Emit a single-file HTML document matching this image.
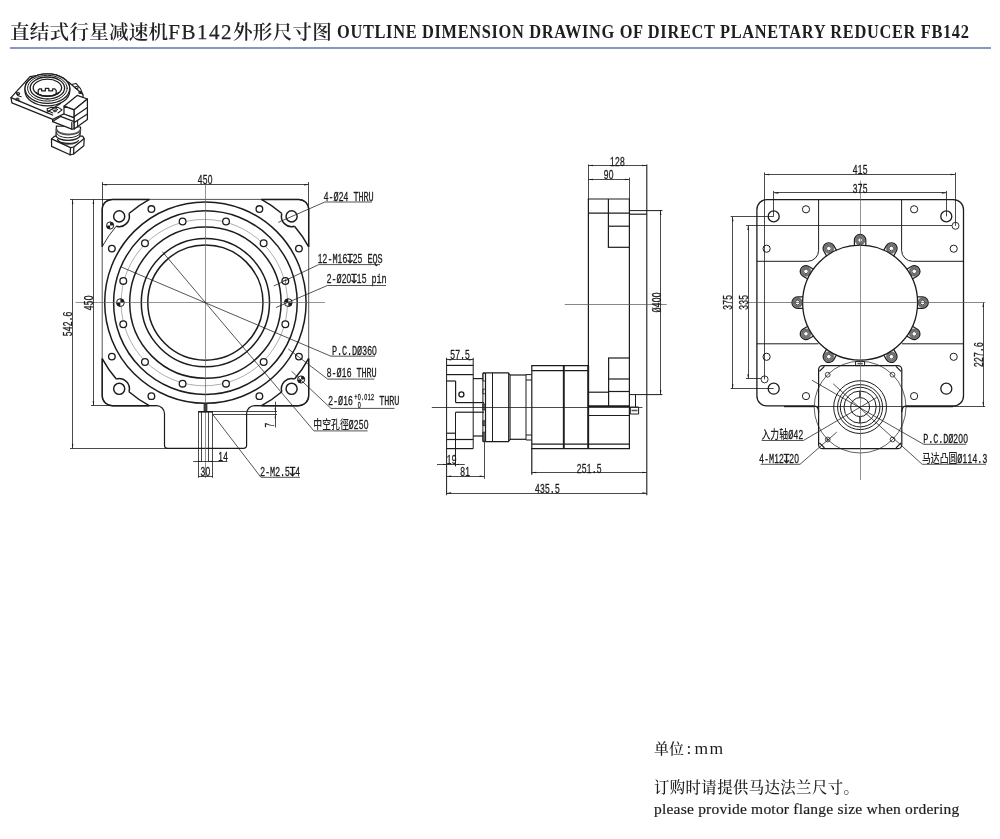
<!DOCTYPE html>
<html lang="zh">
<head>
<meta charset="utf-8">
<title>直结式行星减速机FB142外形尺寸图</title>
<style>
html,body{margin:0;padding:0;background:#fff;}
body{width:1000px;height:839px;position:relative;overflow:hidden;font-family:"Liberation Serif","Noto Serif CJK SC",serif;color:#222;}
.hd{position:absolute;left:0;top:0;width:1000px;height:50px;}
.t-cn{position:absolute;left:10px;top:17.2px;font-size:19.6px;line-height:30px;white-space:nowrap;letter-spacing:0.2px;font-family:"Liberation Serif","Noto Serif CJK SC",serif;font-weight:600;color:#222;}
.t-cn b{font-weight:400;-webkit-text-stroke:0.25px #222;font-size:21px;letter-spacing:1.5px;}
.t-en{position:absolute;left:337.4px;top:19.1px;font-size:16.4px;line-height:28px;font-weight:bold;white-space:nowrap;letter-spacing:0.66px;transform-origin:0 75%;transform:scaleY(1.15);color:#1e1e1e;}
.rule{position:absolute;left:10px;top:47px;width:981px;height:1.8px;background:#8a97c5;}
svg{position:absolute;left:0;top:0;will-change:transform;opacity:0.999;}
.t-cn,.t-en,.note{will-change:transform;}
svg text.cad{font-family:"Liberation Mono","DejaVu Sans Mono","DejaVu Sans",monospace;white-space:pre;}
svg text.cad.d, svg text.cad .d{font-family:"Liberation Sans","DejaVu Sans",sans-serif;}
svg text.cad .s{font-family:"DejaVu Sans","Liberation Sans",sans-serif;font-size:12.6px;}
svg text.cad{stroke:#1c1c1c;stroke-width:0.3px;}
svg text.cn{font-family:"Liberation Sans","Noto Sans CJK SC",sans-serif;font-weight:500;}
.note{position:absolute;white-space:nowrap;color:#1c1c1c;}
.cnm{font-weight:500;}
.en{-webkit-text-stroke:0.2px #1c1c1c;}
</style>
</head>
<body>
<div class="hd"><div class="t-cn">直结式行星减速机<b>FB142</b>外形尺寸图</div><div class="t-en">OUTLINE DIMENSION DRAWING OF DIRECT PLANETARY REDUCER FB142</div><div class="rule"></div></div>
<svg width="1000" height="839" viewBox="0 0 1000 839" stroke-linecap="butt" stroke-linejoin="round">
<path d="M112.20,199.40 L298.70,199.40 A10.0,10.0 0 0 1 308.70,209.40 L308.70,395.70 A10.0,10.0 0 0 1 298.70,405.70 L254.60,405.70 M156.50,405.70 L112.20,405.70 A10.0,10.0 0 0 1 102.20,395.70 L102.20,209.40 A10.0,10.0 0 0 1 112.20,199.40" stroke="#4a4a4a" stroke-width="0.95" fill="none" />
<path d="M298.70,405.70 L254.60,405.70 A8.0,8.0 0 0 0 246.60,413.70 L246.60,445.40 A3.0,3.0 0 0 1 243.60,448.40 L167.50,448.40 A3.0,3.0 0 0 1 164.50,445.40 L164.50,413.70 A8.0,8.0 0 0 0 156.50,405.70 L112.20,405.70" stroke="#1c1c1c" stroke-width="1.2" fill="none" />
<circle cx="205.40" cy="302.60" r="100.70" stroke="#1c1c1c" stroke-width="1.5" fill="none" />
<circle cx="205.40" cy="302.60" r="91.80" stroke="#1c1c1c" stroke-width="1.5" fill="none" />
<circle cx="205.40" cy="302.60" r="75.70" stroke="#1c1c1c" stroke-width="1.5" fill="none" />
<circle cx="205.40" cy="302.60" r="64.10" stroke="#1c1c1c" stroke-width="1.5" fill="none" />
<circle cx="205.40" cy="302.60" r="57.60" stroke="#1c1c1c" stroke-width="1.5" fill="none" />
<circle cx="204.30" cy="302.60" r="83.20" stroke="#777" stroke-width="0.6" fill="none" />
<circle cx="285.34" cy="324.31" r="3.35" stroke="#1c1c1c" stroke-width="1.3" fill="#fff" />
<circle cx="263.63" cy="361.93" r="3.35" stroke="#1c1c1c" stroke-width="1.3" fill="#fff" />
<circle cx="226.01" cy="383.64" r="3.35" stroke="#1c1c1c" stroke-width="1.3" fill="#fff" />
<circle cx="182.59" cy="383.64" r="3.35" stroke="#1c1c1c" stroke-width="1.3" fill="#fff" />
<circle cx="144.97" cy="361.93" r="3.35" stroke="#1c1c1c" stroke-width="1.3" fill="#fff" />
<circle cx="123.26" cy="324.31" r="3.35" stroke="#1c1c1c" stroke-width="1.3" fill="#fff" />
<circle cx="123.26" cy="280.89" r="3.35" stroke="#1c1c1c" stroke-width="1.3" fill="#fff" />
<circle cx="144.97" cy="243.27" r="3.35" stroke="#1c1c1c" stroke-width="1.3" fill="#fff" />
<circle cx="182.59" cy="221.56" r="3.35" stroke="#1c1c1c" stroke-width="1.3" fill="#fff" />
<circle cx="226.01" cy="221.56" r="3.35" stroke="#1c1c1c" stroke-width="1.3" fill="#fff" />
<circle cx="263.63" cy="243.27" r="3.35" stroke="#1c1c1c" stroke-width="1.3" fill="#fff" />
<circle cx="285.34" cy="280.89" r="3.35" stroke="#1c1c1c" stroke-width="1.3" fill="#fff" />
<line x1="283.14" y1="280.50" x2="287.54" y2="280.50" stroke="#1c1c1c" stroke-width="0.5" />
<line x1="285.50" y1="278.69" x2="285.50" y2="283.09" stroke="#1c1c1c" stroke-width="0.5" />
<circle cx="298.93" cy="356.60" r="3.30" stroke="#1c1c1c" stroke-width="1.35" fill="none" />
<circle cx="259.40" cy="396.13" r="3.30" stroke="#1c1c1c" stroke-width="1.35" fill="none" />
<circle cx="151.40" cy="396.13" r="3.30" stroke="#1c1c1c" stroke-width="1.35" fill="none" />
<circle cx="111.87" cy="356.60" r="3.30" stroke="#1c1c1c" stroke-width="1.35" fill="none" />
<circle cx="111.87" cy="248.60" r="3.30" stroke="#1c1c1c" stroke-width="1.35" fill="none" />
<circle cx="151.40" cy="209.07" r="3.30" stroke="#1c1c1c" stroke-width="1.35" fill="none" />
<circle cx="259.40" cy="209.07" r="3.30" stroke="#1c1c1c" stroke-width="1.35" fill="none" />
<circle cx="298.93" cy="248.60" r="3.30" stroke="#1c1c1c" stroke-width="1.35" fill="none" />
<circle cx="119.20" cy="216.40" r="5.55" stroke="#1c1c1c" stroke-width="1.45" fill="none" />
<path d="M102.20,246.63 L102.20,209.40 A10.0,10.0 0 0 1 112.20,199.40 L149.43,199.40" stroke="#1c1c1c" stroke-width="1.45" fill="none" />
<path d="M116.28,226.17 A10.2,10.2 0 0 0 128.97,213.48" stroke="#1c1c1c" stroke-width="1.5" fill="none" />
<path d="M116.28,226.17 A117.4,117.4 0 0 0 102.20,246.63" stroke="#1c1c1c" stroke-width="0.9" fill="none" />
<path d="M128.97,213.48 A117.4,117.4 0 0 1 149.43,199.40" stroke="#1c1c1c" stroke-width="1.5" fill="none" />
<circle cx="291.60" cy="216.40" r="5.55" stroke="#1c1c1c" stroke-width="1.45" fill="none" />
<path d="M308.70,246.82 L308.70,209.40 A10.0,10.0 0 0 0 298.70,199.40 L261.37,199.40" stroke="#1c1c1c" stroke-width="1.45" fill="none" />
<path d="M281.83,213.48 A10.2,10.2 0 0 0 294.52,226.17" stroke="#1c1c1c" stroke-width="1.5" fill="none" />
<path d="M281.83,213.48 A117.4,117.4 0 0 0 261.37,199.40" stroke="#1c1c1c" stroke-width="1.5" fill="none" />
<path d="M294.52,226.17 A117.4,117.4 0 0 1 308.70,246.82" stroke="#1c1c1c" stroke-width="1.5" fill="none" />
<circle cx="291.60" cy="388.80" r="5.55" stroke="#1c1c1c" stroke-width="1.45" fill="none" />
<path d="M308.70,358.38 L308.70,395.70 A10.0,10.0 0 0 1 298.70,405.70 L261.55,405.70" stroke="#1c1c1c" stroke-width="1.45" fill="none" />
<path d="M294.52,379.03 A10.2,10.2 0 0 0 281.83,391.72" stroke="#1c1c1c" stroke-width="1.5" fill="none" />
<path d="M294.52,379.03 A117.4,117.4 0 0 0 308.70,358.38" stroke="#1c1c1c" stroke-width="1.5" fill="none" />
<path d="M281.83,391.72 A117.4,117.4 0 0 1 261.55,405.70" stroke="#1c1c1c" stroke-width="1.5" fill="none" />
<circle cx="119.20" cy="388.80" r="5.55" stroke="#1c1c1c" stroke-width="1.45" fill="none" />
<path d="M102.20,358.57 L102.20,395.70 A10.0,10.0 0 0 0 112.20,405.70 L149.25,405.70" stroke="#1c1c1c" stroke-width="1.45" fill="none" />
<path d="M128.97,391.72 A10.2,10.2 0 0 0 116.28,379.03" stroke="#1c1c1c" stroke-width="1.5" fill="none" />
<path d="M128.97,391.72 A117.4,117.4 0 0 0 149.25,405.70" stroke="#1c1c1c" stroke-width="1.5" fill="none" />
<path d="M116.28,379.03 A117.4,117.4 0 0 1 102.20,358.57" stroke="#1c1c1c" stroke-width="1.5" fill="none" />
<circle cx="120.40" cy="302.60" r="3.90" stroke="#1c1c1c" stroke-width="1.0" fill="#fff" />
<path d="M120.40,302.60 L120.40,298.70 A3.90,3.90 0 0 1 124.30,302.60 Z" stroke="#1c1c1c" stroke-width="0" fill="#1c1c1c" />
<path d="M120.40,302.60 L120.40,306.50 A3.90,3.90 0 0 1 116.50,302.60 Z" stroke="#1c1c1c" stroke-width="0" fill="#1c1c1c" />
<circle cx="288.30" cy="302.60" r="3.90" stroke="#1c1c1c" stroke-width="1.0" fill="#fff" />
<path d="M288.30,302.60 L288.30,298.70 A3.90,3.90 0 0 0 284.40,302.60 Z" stroke="#1c1c1c" stroke-width="0" fill="#1c1c1c" />
<path d="M288.30,302.60 L288.30,306.50 A3.90,3.90 0 0 0 292.20,302.60 Z" stroke="#1c1c1c" stroke-width="0" fill="#1c1c1c" />
<circle cx="110.10" cy="225.50" r="3.60" stroke="#1c1c1c" stroke-width="1.0" fill="#fff" />
<path d="M110.10,225.50 L110.10,221.90 A3.60,3.60 0 0 1 113.70,225.50 Z" stroke="#1c1c1c" stroke-width="0" fill="#1c1c1c" />
<path d="M110.10,225.50 L110.10,229.10 A3.60,3.60 0 0 1 106.50,225.50 Z" stroke="#1c1c1c" stroke-width="0" fill="#1c1c1c" />
<circle cx="301.10" cy="379.50" r="3.60" stroke="#1c1c1c" stroke-width="1.0" fill="#fff" />
<path d="M301.10,379.50 L301.10,375.90 A3.60,3.60 0 0 1 304.70,379.50 Z" stroke="#1c1c1c" stroke-width="0" fill="#1c1c1c" />
<path d="M301.10,379.50 L301.10,383.10 A3.60,3.60 0 0 1 297.50,379.50 Z" stroke="#1c1c1c" stroke-width="0" fill="#1c1c1c" />
<line x1="205.50" y1="185.00" x2="205.50" y2="478.00" stroke="#666" stroke-width="0.7" />
<line x1="75.50" y1="302.50" x2="325.00" y2="302.50" stroke="#666" stroke-width="0.7" />
<path d="M278.20,222.40 L324.80,202.00 L372.00,202.00" stroke="#1c1c1c" stroke-width="0.75" fill="none" />
<text transform="translate(323.50,200.80) rotate(0) translate(0,-0.25) scale(0.66,1)" x="3.79 11.36 18.94 26.52 34.09 41.67 49.24 56.82 64.39 71.97" font-size="12.9" text-anchor="middle" fill="#1c1c1c" class="cad" ><tspan class="d">4</tspan>-Ø<tspan class="d">24</tspan> THRU</text>
<path d="M273.70,286.00 L318.70,264.60 L380.00,264.60" stroke="#1c1c1c" stroke-width="0.75" fill="none" />
<text transform="translate(317.50,263.30) rotate(0) translate(0,-0.25) scale(0.66,1)" x="3.79 11.36 18.94 26.52 34.09 41.67 49.24 56.82 64.39 71.97 79.55 87.12 94.70" font-size="12.9" text-anchor="middle" fill="#1c1c1c" class="cad" ><tspan class="d">12</tspan>-M<tspan class="d">16</tspan><tspan class="s" textLength="16" lengthAdjust="spacingAndGlyphs">↧</tspan><tspan class="d">25</tspan> EQS</text>
<path d="M276.00,307.50 L327.40,285.50 L386.00,285.50" stroke="#1c1c1c" stroke-width="0.75" fill="none" />
<text transform="translate(326.50,283.40) rotate(0) translate(0,-0.25) scale(0.66,1)" x="3.79 11.36 18.94 26.52 34.09 41.67 49.24 56.82 64.39 71.97 79.55 87.12" font-size="12.9" text-anchor="middle" fill="#1c1c1c" class="cad" ><tspan class="d">2</tspan>-Ø<tspan class="d">20</tspan><tspan class="s" textLength="16" lengthAdjust="spacingAndGlyphs">↧</tspan><tspan class="d">15</tspan> pin</text>
<path d="M120.80,266.80 L330.90,356.20 L375.00,356.20" stroke="#1c1c1c" stroke-width="0.75" fill="none" />
<text transform="translate(332.00,355.00) rotate(0) translate(0,-0.25) scale(0.66,1)" x="3.79 11.36 18.94 26.52 34.09 41.67 49.24 56.82 64.39" font-size="12.9" text-anchor="middle" fill="#1c1c1c" class="cad" >P.C.DØ<tspan class="d">360</tspan></text>
<path d="M288.30,349.00 L327.70,379.10 L374.40,379.10" stroke="#1c1c1c" stroke-width="0.75" fill="none" />
<text transform="translate(326.60,377.60) rotate(0) translate(0,-0.25) scale(0.66,1)" x="3.79 11.36 18.94 26.52 34.09 41.67 49.24 56.82 64.39 71.97" font-size="12.9" text-anchor="middle" fill="#1c1c1c" class="cad" ><tspan class="d">8</tspan>-Ø<tspan class="d">16</tspan> THRU</text>
<path d="M291.60,371.30 L330.90,408.40 L394.50,408.40" stroke="#1c1c1c" stroke-width="0.75" fill="none" />
<text transform="translate(328.00,404.90) rotate(0) translate(0,-0.25) scale(0.66,1)" x="3.79 11.36 18.94 26.52 34.09" font-size="12.9" text-anchor="middle" fill="#1c1c1c" class="cad" ><tspan class="d">2</tspan>-Ø<tspan class="d">16</tspan></text>
<text transform="translate(354.30,400.00) rotate(0) translate(0,-0.25) scale(0.66,1)" x="2.50 7.50 12.50 17.50 22.50 27.50" font-size="8.2" text-anchor="middle" fill="#1c1c1c" class="cad" >+<tspan class="d">0</tspan>.<tspan class="d">012</tspan></text>
<text transform="translate(357.60,408.00) rotate(0) translate(0,-0.25) scale(0.66,1)" x="2.50" font-size="8.2" text-anchor="middle" fill="#1c1c1c" class="cad d" >0</text>
<text transform="translate(379.20,404.90) rotate(0) translate(0,-0.25) scale(0.66,1)" x="3.79 11.36 18.94 26.52" font-size="12.9" text-anchor="middle" fill="#1c1c1c" class="cad" >THRU</text>
<path d="M162.30,251.60 L313.90,430.90 L367.60,430.90" stroke="#1c1c1c" stroke-width="0.75" fill="none" />
<text transform="translate(313.30,429.40) rotate(0) scale(0.74,1)" font-size="12.0" text-anchor="start" fill="#222" class="cn">中空孔徑</text>
<text transform="translate(348.60,429.40) rotate(0) translate(0,-0.25) scale(0.66,1)" x="3.79 11.36 18.94 26.52" font-size="12.9" text-anchor="middle" fill="#1c1c1c" class="cad" >Ø<tspan class="d">250</tspan></text>
<path d="M213.00,414.80 L260.90,477.30 L300.00,477.30" stroke="#1c1c1c" stroke-width="0.75" fill="none" />
<text transform="translate(260.00,475.80) rotate(0) translate(0,-0.25) scale(0.66,1)" x="3.79 11.36 18.94 26.52 34.09 41.67 49.24 56.82" font-size="12.9" text-anchor="middle" fill="#1c1c1c" class="cad" ><tspan class="d">2</tspan>-M<tspan class="d">2</tspan>.<tspan class="d">5</tspan><tspan class="s" textLength="16" lengthAdjust="spacingAndGlyphs">↧</tspan><tspan class="d">4</tspan></text>
<line x1="102.20" y1="184.50" x2="308.70" y2="184.50" stroke="#1c1c1c" stroke-width="0.8" />
<polygon points="102.20,184.75 106.70,184.00 106.70,185.50" fill="#1c1c1c"/>
<polygon points="308.70,184.75 304.20,185.50 304.20,184.00" fill="#1c1c1c"/>
<line x1="102.50" y1="182.00" x2="102.50" y2="211.40" stroke="#1c1c1c" stroke-width="0.8" />
<line x1="308.50" y1="182.00" x2="308.50" y2="211.40" stroke="#1c1c1c" stroke-width="0.8" />
<text transform="translate(205.00,183.40) rotate(0) translate(0,0.7) scale(0.66,1)" x="-7.58 0.00 7.58" font-size="12.9" text-anchor="middle" fill="#1c1c1c" class="cad d" >450</text>
<line x1="93.50" y1="199.40" x2="93.50" y2="405.70" stroke="#1c1c1c" stroke-width="0.8" />
<polygon points="93.40,199.40 94.15,203.90 92.65,203.90" fill="#1c1c1c"/>
<polygon points="93.40,405.70 92.65,401.20 94.15,401.20" fill="#1c1c1c"/>
<text transform="translate(92.30,303.00) rotate(-90) translate(0,0.7) scale(0.66,1)" x="-7.58 0.00 7.58" font-size="12.9" text-anchor="middle" fill="#1c1c1c" class="cad d" >450</text>
<line x1="72.50" y1="199.40" x2="72.50" y2="448.40" stroke="#1c1c1c" stroke-width="0.8" />
<polygon points="72.60,199.40 73.35,203.90 71.85,203.90" fill="#1c1c1c"/>
<polygon points="72.60,448.40 71.85,443.90 73.35,443.90" fill="#1c1c1c"/>
<text transform="translate(71.20,324.00) rotate(-90) translate(0,0.7) scale(0.66,1)" x="-15.15 -7.58 0.00 7.58 15.15" font-size="12.9" text-anchor="middle" fill="#1c1c1c" class="cad" ><tspan class="d">542</tspan>.<tspan class="d">6</tspan></text>
<line x1="70.00" y1="199.50" x2="112.20" y2="199.50" stroke="#1c1c1c" stroke-width="0.8" />
<line x1="70.00" y1="448.50" x2="168.50" y2="448.50" stroke="#1c1c1c" stroke-width="0.8" />
<line x1="91.00" y1="405.50" x2="112.20" y2="405.50" stroke="#1c1c1c" stroke-width="0.8" />
<rect x="204.0" y="403.6" width="3.0" height="8.0" fill="#444" stroke="#222" stroke-width="0.7"/>
<line x1="198.30" y1="411.80" x2="212.80" y2="411.80" stroke="#1c1c1c" stroke-width="1.6" />
<line x1="198.50" y1="411.00" x2="198.50" y2="477.80" stroke="#1c1c1c" stroke-width="0.8" />
<line x1="212.50" y1="411.00" x2="212.50" y2="477.80" stroke="#1c1c1c" stroke-width="0.8" />
<line x1="201.50" y1="412.00" x2="201.50" y2="462.00" stroke="#1c1c1c" stroke-width="0.8" />
<line x1="208.50" y1="412.00" x2="208.50" y2="462.00" stroke="#1c1c1c" stroke-width="0.8" />
<line x1="193.20" y1="461.50" x2="227.30" y2="461.50" stroke="#1c1c1c" stroke-width="0.8" />
<polygon points="201.50,461.30 198.00,461.90 198.00,460.70" fill="#1c1c1c"/>
<polygon points="208.80,461.30 212.30,460.70 212.30,461.90" fill="#1c1c1c"/>
<text transform="translate(223.00,460.60) rotate(0) translate(0,0.7) scale(0.66,1)" x="-3.79 3.79" font-size="12.9" text-anchor="middle" fill="#1c1c1c" class="cad d" >14</text>
<line x1="198.20" y1="476.50" x2="213.00" y2="476.50" stroke="#1c1c1c" stroke-width="0.8" />
<text transform="translate(205.40,475.20) rotate(0) translate(0,0.7) scale(0.66,1)" x="-3.79 3.79" font-size="12.9" text-anchor="middle" fill="#1c1c1c" class="cad d" >30</text>
<line x1="213.00" y1="411.50" x2="277.00" y2="411.50" stroke="#1c1c1c" stroke-width="0.8" />
<line x1="213.00" y1="414.50" x2="277.00" y2="414.50" stroke="#1c1c1c" stroke-width="0.8" />
<line x1="275.50" y1="401.60" x2="275.50" y2="427.50" stroke="#1c1c1c" stroke-width="0.8" />
<polygon points="275.20,411.60 274.60,408.10 275.80,408.10" fill="#1c1c1c"/>
<polygon points="275.20,414.70 275.80,418.20 274.60,418.20" fill="#1c1c1c"/>
<text transform="translate(273.60,425.20) rotate(-90) translate(0,0.7) scale(0.66,1)" x="0.00" font-size="12.9" text-anchor="middle" fill="#1c1c1c" class="cad d" >7</text>
<line x1="588.40" y1="199.00" x2="588.40" y2="449.00" stroke="#1c1c1c" stroke-width="1.2" />
<line x1="629.40" y1="199.00" x2="629.40" y2="449.00" stroke="#1c1c1c" stroke-width="1.2" />
<line x1="587.80" y1="199.00" x2="630.00" y2="199.00" stroke="#1c1c1c" stroke-width="1.2" />
<line x1="588.40" y1="213.20" x2="629.40" y2="213.20" stroke="#1c1c1c" stroke-width="1.2" />
<line x1="608.40" y1="199.00" x2="608.40" y2="247.30" stroke="#1c1c1c" stroke-width="1.2" />
<line x1="608.40" y1="226.20" x2="629.40" y2="226.20" stroke="#1c1c1c" stroke-width="1.2" />
<line x1="607.80" y1="247.30" x2="629.40" y2="247.30" stroke="#1c1c1c" stroke-width="1.2" />
<line x1="608.60" y1="358.00" x2="608.60" y2="406.00" stroke="#1c1c1c" stroke-width="1.2" />
<line x1="608.00" y1="358.00" x2="629.40" y2="358.00" stroke="#1c1c1c" stroke-width="1.2" />
<line x1="608.60" y1="379.00" x2="629.40" y2="379.00" stroke="#1c1c1c" stroke-width="1.2" />
<line x1="608.60" y1="391.50" x2="629.40" y2="391.50" stroke="#1c1c1c" stroke-width="1.2" />
<line x1="588.40" y1="392.20" x2="608.60" y2="392.20" stroke="#1c1c1c" stroke-width="1.2" />
<line x1="588.40" y1="406.20" x2="629.60" y2="406.20" stroke="#1c1c1c" stroke-width="1.8" />
<line x1="588.40" y1="415.50" x2="629.60" y2="415.50" stroke="#1c1c1c" stroke-width="1.2" />
<line x1="531.80" y1="444.10" x2="629.60" y2="444.10" stroke="#1c1c1c" stroke-width="1.2" />
<line x1="531.20" y1="448.70" x2="630.00" y2="448.70" stroke="#1c1c1c" stroke-width="1.2" />
<line x1="629.40" y1="210.60" x2="662.40" y2="210.60" stroke="#1c1c1c" stroke-width="1.0" />
<line x1="629.40" y1="214.20" x2="646.80" y2="214.20" stroke="#1c1c1c" stroke-width="1.2" />
<line x1="646.80" y1="164.40" x2="646.80" y2="495.20" stroke="#1c1c1c" stroke-width="1.1" />
<line x1="629.40" y1="394.60" x2="662.40" y2="394.60" stroke="#1c1c1c" stroke-width="1.0" />
<line x1="635.50" y1="394.60" x2="635.50" y2="407.00" stroke="#1c1c1c" stroke-width="1.0" />
<rect x="630.30" y="407.00" width="8.30" height="7.00" rx="0" stroke="#1c1c1c" stroke-width="1.0" fill="none"/>
<line x1="631.50" y1="410.50" x2="637.50" y2="410.50" stroke="#555" stroke-width="1.6" />
<line x1="531.80" y1="365.60" x2="531.80" y2="474.80" stroke="#1c1c1c" stroke-width="1.2" />
<line x1="531.20" y1="365.60" x2="588.40" y2="365.60" stroke="#1c1c1c" stroke-width="1.2" />
<line x1="531.80" y1="370.60" x2="588.40" y2="370.60" stroke="#1c1c1c" stroke-width="1.2" />
<line x1="563.80" y1="365.60" x2="563.80" y2="448.70" stroke="#1c1c1c" stroke-width="1.9" />
<line x1="588.20" y1="365.60" x2="588.20" y2="448.70" stroke="#1c1c1c" stroke-width="1.9" />
<line x1="526.00" y1="374.60" x2="531.80" y2="374.60" stroke="#1c1c1c" stroke-width="1.0" />
<line x1="526.00" y1="380.00" x2="531.80" y2="380.00" stroke="#1c1c1c" stroke-width="1.0" />
<line x1="526.00" y1="435.00" x2="531.80" y2="435.00" stroke="#1c1c1c" stroke-width="1.0" />
<line x1="526.00" y1="440.00" x2="531.80" y2="440.00" stroke="#1c1c1c" stroke-width="1.0" />
<line x1="526.00" y1="374.60" x2="526.00" y2="440.00" stroke="#1c1c1c" stroke-width="1.0" />
<line x1="510.00" y1="375.00" x2="526.00" y2="375.00" stroke="#1c1c1c" stroke-width="1.2" />
<line x1="510.00" y1="439.30" x2="526.00" y2="439.30" stroke="#1c1c1c" stroke-width="1.2" />
<path d="M485.5,372.8 L508.4,372.8 L510.0,375.0 L510.0,439.4 L508.4,441.7 L485.5,441.7" stroke="#1c1c1c" stroke-width="1.2" fill="none" />
<line x1="485.50" y1="372.80" x2="485.50" y2="441.70" stroke="#1c1c1c" stroke-width="1.2" />
<line x1="492.50" y1="372.80" x2="492.50" y2="441.70" stroke="#1c1c1c" stroke-width="1.0" />
<line x1="508.50" y1="373.50" x2="508.50" y2="441.00" stroke="#1c1c1c" stroke-width="0.9" />
<line x1="482.90" y1="372.80" x2="482.90" y2="441.70" stroke="#1c1c1c" stroke-width="1.0" />
<line x1="482.90" y1="372.80" x2="485.50" y2="372.80" stroke="#1c1c1c" stroke-width="1.0" />
<line x1="482.90" y1="441.70" x2="485.50" y2="441.70" stroke="#1c1c1c" stroke-width="1.0" />
<rect x="482.9" y="373.5" width="2.6" height="7.5" fill="none" stroke="#1c1c1c" stroke-width="0.8"/>
<rect x="482.9" y="389.2" width="2.6" height="4.6" fill="none" stroke="#1c1c1c" stroke-width="0.8"/>
<rect x="482.9" y="404.0" width="2.6" height="6.0" fill="#666" stroke="#1c1c1c" stroke-width="0.8"/>
<rect x="482.9" y="420.8" width="2.6" height="4.8" fill="#666" stroke="#1c1c1c" stroke-width="0.8"/>
<rect x="482.9" y="432.2" width="2.6" height="9.0" fill="#666" stroke="#1c1c1c" stroke-width="0.8"/>
<line x1="484.50" y1="441.70" x2="484.50" y2="478.80" stroke="#1c1c1c" stroke-width="0.8" />
<line x1="473.00" y1="378.60" x2="482.90" y2="378.60" stroke="#1c1c1c" stroke-width="1.2" />
<line x1="473.00" y1="436.00" x2="482.90" y2="436.00" stroke="#1c1c1c" stroke-width="1.2" />
<line x1="446.60" y1="357.80" x2="446.60" y2="495.20" stroke="#1c1c1c" stroke-width="1.0" />
<line x1="473.20" y1="357.80" x2="473.20" y2="448.60" stroke="#1c1c1c" stroke-width="1.0" />
<line x1="446.60" y1="365.40" x2="473.20" y2="365.40" stroke="#1c1c1c" stroke-width="1.2" />
<line x1="446.60" y1="374.60" x2="473.20" y2="374.60" stroke="#1c1c1c" stroke-width="1.2" />
<line x1="446.60" y1="381.00" x2="455.60" y2="381.00" stroke="#1c1c1c" stroke-width="1.2" />
<line x1="455.60" y1="381.00" x2="455.60" y2="402.60" stroke="#1c1c1c" stroke-width="1.2" />
<line x1="455.60" y1="402.60" x2="484.00" y2="402.60" stroke="#1c1c1c" stroke-width="1.2" />
<line x1="455.60" y1="412.20" x2="484.00" y2="412.20" stroke="#1c1c1c" stroke-width="1.2" />
<line x1="455.50" y1="412.20" x2="455.50" y2="466.40" stroke="#1c1c1c" stroke-width="1.0" />
<line x1="446.60" y1="433.20" x2="455.50" y2="433.20" stroke="#1c1c1c" stroke-width="1.2" />
<line x1="446.60" y1="439.50" x2="473.20" y2="439.50" stroke="#1c1c1c" stroke-width="1.2" />
<line x1="446.60" y1="448.60" x2="473.20" y2="448.60" stroke="#1c1c1c" stroke-width="1.2" />
<circle cx="461.40" cy="394.40" r="2.50" stroke="#1c1c1c" stroke-width="1.3" fill="none" />
<line x1="431.80" y1="407.50" x2="642.50" y2="407.50" stroke="#1c1c1c" stroke-width="0.8" />
<line x1="564.70" y1="304.50" x2="666.80" y2="304.50" stroke="#555" stroke-width="0.7" />
<line x1="588.50" y1="164.40" x2="588.50" y2="199.00" stroke="#1c1c1c" stroke-width="0.8" />
<line x1="588.40" y1="165.50" x2="646.80" y2="165.50" stroke="#1c1c1c" stroke-width="0.8" />
<polygon points="588.40,165.60 592.90,164.85 592.90,166.35" fill="#1c1c1c"/>
<polygon points="646.80,165.60 642.30,166.35 642.30,164.85" fill="#1c1c1c"/>
<text transform="translate(617.40,164.80) rotate(0) translate(0,0.7) scale(0.66,1)" x="-7.58 0.00 7.58" font-size="12.9" text-anchor="middle" fill="#1c1c1c" class="cad d" >128</text>
<line x1="629.50" y1="177.60" x2="629.50" y2="199.00" stroke="#1c1c1c" stroke-width="0.8" />
<line x1="588.40" y1="179.50" x2="629.40" y2="179.50" stroke="#1c1c1c" stroke-width="0.8" />
<polygon points="588.40,179.40 592.90,178.65 592.90,180.15" fill="#1c1c1c"/>
<polygon points="629.40,179.40 624.90,180.15 624.90,178.65" fill="#1c1c1c"/>
<text transform="translate(608.70,178.60) rotate(0) translate(0,0.7) scale(0.66,1)" x="-3.79 3.79" font-size="12.9" text-anchor="middle" fill="#1c1c1c" class="cad d" >90</text>
<line x1="660.50" y1="210.60" x2="660.50" y2="394.60" stroke="#1c1c1c" stroke-width="0.8" />
<polygon points="660.60,210.60 661.35,215.10 659.85,215.10" fill="#1c1c1c"/>
<polygon points="660.60,394.60 659.85,390.10 661.35,390.10" fill="#1c1c1c"/>
<text transform="translate(660.40,302.40) rotate(-90) translate(0,0.7) scale(0.66,1)" x="-11.36 -3.79 3.79 11.36" font-size="12.9" text-anchor="middle" fill="#1c1c1c" class="cad" >Ø<tspan class="d">400</tspan></text>
<line x1="446.60" y1="359.50" x2="473.20" y2="359.50" stroke="#1c1c1c" stroke-width="0.8" />
<polygon points="446.60,359.80 451.10,359.05 451.10,360.55" fill="#1c1c1c"/>
<polygon points="473.20,359.80 468.70,360.55 468.70,359.05" fill="#1c1c1c"/>
<text transform="translate(460.00,358.60) rotate(0) translate(0,0.7) scale(0.66,1)" x="-11.36 -3.79 3.79 11.36" font-size="12.9" text-anchor="middle" fill="#1c1c1c" class="cad" ><tspan class="d">57</tspan>.<tspan class="d">5</tspan></text>
<line x1="437.00" y1="464.50" x2="464.80" y2="464.50" stroke="#1c1c1c" stroke-width="0.8" />
<polygon points="446.60,464.40 443.10,465.00 443.10,463.80" fill="#1c1c1c"/>
<polygon points="455.50,464.40 459.00,463.80 459.00,465.00" fill="#1c1c1c"/>
<text transform="translate(451.60,463.60) rotate(0) translate(0,0.7) scale(0.66,1)" x="-3.79 3.79" font-size="12.9" text-anchor="middle" fill="#1c1c1c" class="cad d" >19</text>
<line x1="446.60" y1="476.50" x2="484.20" y2="476.50" stroke="#1c1c1c" stroke-width="0.8" />
<polygon points="446.60,476.20 451.10,475.45 451.10,476.95" fill="#1c1c1c"/>
<polygon points="484.20,476.20 479.70,476.95 479.70,475.45" fill="#1c1c1c"/>
<text transform="translate(465.20,475.20) rotate(0) translate(0,0.7) scale(0.66,1)" x="-3.79 3.79" font-size="12.9" text-anchor="middle" fill="#1c1c1c" class="cad d" >81</text>
<line x1="531.80" y1="472.50" x2="646.80" y2="472.50" stroke="#1c1c1c" stroke-width="0.8" />
<polygon points="531.80,472.60 536.30,471.85 536.30,473.35" fill="#1c1c1c"/>
<polygon points="646.80,472.60 642.30,473.35 642.30,471.85" fill="#1c1c1c"/>
<text transform="translate(589.20,471.80) rotate(0) translate(0,0.7) scale(0.66,1)" x="-15.15 -7.58 0.00 7.58 15.15" font-size="12.9" text-anchor="middle" fill="#1c1c1c" class="cad" ><tspan class="d">251</tspan>.<tspan class="d">5</tspan></text>
<line x1="446.60" y1="493.50" x2="646.80" y2="493.50" stroke="#1c1c1c" stroke-width="0.8" />
<polygon points="446.60,493.00 451.10,492.25 451.10,493.75" fill="#1c1c1c"/>
<polygon points="646.80,493.00 642.30,493.75 642.30,492.25" fill="#1c1c1c"/>
<text transform="translate(547.30,492.20) rotate(0) translate(0,0.7) scale(0.66,1)" x="-15.15 -7.58 0.00 7.58 15.15" font-size="12.9" text-anchor="middle" fill="#1c1c1c" class="cad" ><tspan class="d">435</tspan>.<tspan class="d">5</tspan></text>
<path d="M818.60,413.10 L818.60,411.90 Q818.60,405.90 813.60,405.90 L766.90,405.90 A10.0,10.0 0 0 1 756.90,395.90 L756.90,209.60 A10.0,10.0 0 0 1 766.90,199.60 L953.50,199.60 A10.0,10.0 0 0 1 963.50,209.60 L963.50,395.90 A10.0,10.0 0 0 1 953.50,405.90 L906.80,405.90 Q901.80,405.90 901.80,411.90" stroke="#1c1c1c" stroke-width="1.3" fill="none" />
<line x1="784.00" y1="406.60" x2="814.00" y2="406.60" stroke="#1c1c1c" stroke-width="1.2" />
<line x1="906.00" y1="406.60" x2="953.00" y2="406.60" stroke="#1c1c1c" stroke-width="1.2" />
<path d="M818.60,199.60 L818.6,250.30 A11.0,11.0 0 0 1 807.60,261.3 L756.90,261.3" stroke="#1c1c1c" stroke-width="1.0" fill="none" />
<path d="M901.60,199.60 L901.6,250.30 A11.0,11.0 0 0 0 912.60,261.3 L963.50,261.3" stroke="#1c1c1c" stroke-width="1.0" fill="none" />
<line x1="756.90" y1="343.80" x2="818.30" y2="343.80" stroke="#1c1c1c" stroke-width="1.0" />
<line x1="901.90" y1="343.80" x2="963.50" y2="343.80" stroke="#1c1c1c" stroke-width="1.0" />
<path d="M917.10,308.30 L922.60,308.30 A5.7,5.7 0 0 0 922.60,296.90 L917.10,296.90" stroke="#1c1c1c" stroke-width="1.2" fill="#fff" />
<circle cx="922.60" cy="302.60" r="3.75" stroke="#707070" stroke-width="2.1" fill="none" />
<circle cx="922.60" cy="302.60" r="5.00" stroke="#333" stroke-width="0.5" fill="none" />
<circle cx="922.60" cy="302.60" r="2.30" stroke="#1c1c1c" stroke-width="0.8" fill="#fff" />
<path d="M906.61,336.04 L911.38,338.79 A5.7,5.7 0 0 0 917.08,328.91 L912.31,326.16" stroke="#1c1c1c" stroke-width="1.2" fill="#fff" />
<circle cx="914.23" cy="333.85" r="3.75" stroke="#707070" stroke-width="2.1" fill="none" />
<circle cx="914.23" cy="333.85" r="5.00" stroke="#333" stroke-width="0.5" fill="none" />
<circle cx="914.23" cy="333.85" r="2.30" stroke="#1c1c1c" stroke-width="0.8" fill="#fff" />
<path d="M883.66,354.81 L886.41,359.58 A5.7,5.7 0 0 0 896.29,353.88 L893.54,349.11" stroke="#1c1c1c" stroke-width="1.2" fill="#fff" />
<circle cx="891.35" cy="356.73" r="3.75" stroke="#707070" stroke-width="2.1" fill="none" />
<circle cx="891.35" cy="356.73" r="5.00" stroke="#333" stroke-width="0.5" fill="none" />
<circle cx="891.35" cy="356.73" r="2.30" stroke="#1c1c1c" stroke-width="0.8" fill="#fff" />
<path d="M826.66,349.11 L823.91,353.88 A5.7,5.7 0 0 0 833.79,359.58 L836.54,354.81" stroke="#1c1c1c" stroke-width="1.2" fill="#fff" />
<circle cx="828.85" cy="356.73" r="3.75" stroke="#707070" stroke-width="2.1" fill="none" />
<circle cx="828.85" cy="356.73" r="5.00" stroke="#333" stroke-width="0.5" fill="none" />
<circle cx="828.85" cy="356.73" r="2.30" stroke="#1c1c1c" stroke-width="0.8" fill="#fff" />
<path d="M807.89,326.16 L803.12,328.91 A5.7,5.7 0 0 0 808.82,338.79 L813.59,336.04" stroke="#1c1c1c" stroke-width="1.2" fill="#fff" />
<circle cx="805.97" cy="333.85" r="3.75" stroke="#707070" stroke-width="2.1" fill="none" />
<circle cx="805.97" cy="333.85" r="5.00" stroke="#333" stroke-width="0.5" fill="none" />
<circle cx="805.97" cy="333.85" r="2.30" stroke="#1c1c1c" stroke-width="0.8" fill="#fff" />
<path d="M803.10,296.90 L797.60,296.90 A5.7,5.7 0 0 0 797.60,308.30 L803.10,308.30" stroke="#1c1c1c" stroke-width="1.2" fill="#fff" />
<circle cx="797.60" cy="302.60" r="3.75" stroke="#707070" stroke-width="2.1" fill="none" />
<circle cx="797.60" cy="302.60" r="5.00" stroke="#333" stroke-width="0.5" fill="none" />
<circle cx="797.60" cy="302.60" r="2.30" stroke="#1c1c1c" stroke-width="0.8" fill="#fff" />
<path d="M813.59,269.16 L808.82,266.41 A5.7,5.7 0 0 0 803.12,276.29 L807.89,279.04" stroke="#1c1c1c" stroke-width="1.2" fill="#fff" />
<circle cx="805.97" cy="271.35" r="3.75" stroke="#707070" stroke-width="2.1" fill="none" />
<circle cx="805.97" cy="271.35" r="5.00" stroke="#333" stroke-width="0.5" fill="none" />
<circle cx="805.97" cy="271.35" r="2.30" stroke="#1c1c1c" stroke-width="0.8" fill="#fff" />
<path d="M836.54,250.39 L833.79,245.62 A5.7,5.7 0 0 0 823.91,251.32 L826.66,256.09" stroke="#1c1c1c" stroke-width="1.2" fill="#fff" />
<circle cx="828.85" cy="248.47" r="3.75" stroke="#707070" stroke-width="2.1" fill="none" />
<circle cx="828.85" cy="248.47" r="5.00" stroke="#333" stroke-width="0.5" fill="none" />
<circle cx="828.85" cy="248.47" r="2.30" stroke="#1c1c1c" stroke-width="0.8" fill="#fff" />
<path d="M865.80,245.60 L865.80,240.10 A5.7,5.7 0 0 0 854.40,240.10 L854.40,245.60" stroke="#1c1c1c" stroke-width="1.2" fill="#fff" />
<circle cx="860.10" cy="240.10" r="3.75" stroke="#707070" stroke-width="2.1" fill="none" />
<circle cx="860.10" cy="240.10" r="5.00" stroke="#333" stroke-width="0.5" fill="none" />
<circle cx="860.10" cy="240.10" r="2.30" stroke="#1c1c1c" stroke-width="0.8" fill="#fff" />
<path d="M893.54,256.09 L896.29,251.32 A5.7,5.7 0 0 0 886.41,245.62 L883.66,250.39" stroke="#1c1c1c" stroke-width="1.2" fill="#fff" />
<circle cx="891.35" cy="248.47" r="3.75" stroke="#707070" stroke-width="2.1" fill="none" />
<circle cx="891.35" cy="248.47" r="5.00" stroke="#333" stroke-width="0.5" fill="none" />
<circle cx="891.35" cy="248.47" r="2.30" stroke="#1c1c1c" stroke-width="0.8" fill="#fff" />
<path d="M912.31,279.04 L917.08,276.29 A5.7,5.7 0 0 0 911.38,266.41 L906.61,269.16" stroke="#1c1c1c" stroke-width="1.2" fill="#fff" />
<circle cx="914.23" cy="271.35" r="3.75" stroke="#707070" stroke-width="2.1" fill="none" />
<circle cx="914.23" cy="271.35" r="5.00" stroke="#333" stroke-width="0.5" fill="none" />
<circle cx="914.23" cy="271.35" r="2.30" stroke="#1c1c1c" stroke-width="0.8" fill="#fff" />
<circle cx="860.10" cy="302.60" r="57.50" stroke="#1c1c1c" stroke-width="1.3" fill="none" />
<rect x="855.60" y="361.40" width="9.00" height="4.20" rx="0" stroke="#1c1c1c" stroke-width="1.0" fill="none"/>
<line x1="857.50" y1="363.60" x2="862.80" y2="363.60" stroke="#555" stroke-width="1.6" />
<circle cx="773.70" cy="216.40" r="5.50" stroke="#1c1c1c" stroke-width="1.3" fill="none" />
<circle cx="946.30" cy="216.40" r="5.50" stroke="#1c1c1c" stroke-width="1.3" fill="none" />
<circle cx="773.70" cy="388.70" r="5.50" stroke="#1c1c1c" stroke-width="1.3" fill="none" />
<circle cx="946.30" cy="388.70" r="5.50" stroke="#1c1c1c" stroke-width="1.3" fill="none" />
<circle cx="806.00" cy="209.30" r="3.60" stroke="#1c1c1c" stroke-width="1.0" fill="none" />
<circle cx="914.10" cy="209.30" r="3.60" stroke="#1c1c1c" stroke-width="1.0" fill="none" />
<circle cx="766.60" cy="248.70" r="3.60" stroke="#1c1c1c" stroke-width="1.0" fill="none" />
<circle cx="953.70" cy="248.70" r="3.60" stroke="#1c1c1c" stroke-width="1.0" fill="none" />
<circle cx="766.60" cy="356.80" r="3.60" stroke="#1c1c1c" stroke-width="1.0" fill="none" />
<circle cx="953.70" cy="356.80" r="3.60" stroke="#1c1c1c" stroke-width="1.0" fill="none" />
<circle cx="806.00" cy="396.10" r="3.60" stroke="#1c1c1c" stroke-width="1.0" fill="none" />
<circle cx="914.10" cy="396.10" r="3.60" stroke="#1c1c1c" stroke-width="1.0" fill="none" />
<circle cx="955.50" cy="225.80" r="3.50" stroke="#1c1c1c" stroke-width="0.9" fill="none" />
<circle cx="764.60" cy="379.40" r="3.50" stroke="#1c1c1c" stroke-width="0.9" fill="none" />
<rect x="818.6" y="365.6" width="83.20" height="83.10" rx="4.0" fill="none" stroke="#1c1c1c" stroke-width="1.2"/>
<line x1="819.40" y1="371.40" x2="824.40" y2="366.40" stroke="#1c1c1c" stroke-width="1.3" />
<circle cx="827.70" cy="374.70" r="2.40" stroke="#1c1c1c" stroke-width="0.8" fill="none" />
<line x1="901.00" y1="371.40" x2="896.00" y2="366.40" stroke="#1c1c1c" stroke-width="1.3" />
<circle cx="892.50" cy="374.70" r="2.40" stroke="#1c1c1c" stroke-width="0.8" fill="none" />
<line x1="901.00" y1="442.90" x2="896.00" y2="447.90" stroke="#1c1c1c" stroke-width="1.3" />
<circle cx="892.50" cy="439.50" r="2.40" stroke="#1c1c1c" stroke-width="0.8" fill="none" />
<line x1="819.40" y1="442.90" x2="824.40" y2="447.90" stroke="#1c1c1c" stroke-width="1.3" />
<circle cx="827.70" cy="439.50" r="2.40" stroke="#1c1c1c" stroke-width="0.8" fill="none" />
<line x1="826.10" y1="439.50" x2="829.30" y2="439.50" stroke="#1c1c1c" stroke-width="0.5" />
<line x1="827.50" y1="437.90" x2="827.50" y2="441.10" stroke="#1c1c1c" stroke-width="0.5" />
<circle cx="860.10" cy="407.10" r="45.90" stroke="#1c1c1c" stroke-width="0.7" fill="none" />
<circle cx="860.10" cy="407.10" r="26.40" stroke="#1c1c1c" stroke-width="1.0" fill="none" />
<circle cx="860.10" cy="407.10" r="22.50" stroke="#1c1c1c" stroke-width="1.0" fill="none" />
<circle cx="860.10" cy="407.10" r="19.80" stroke="#1c1c1c" stroke-width="1.0" fill="none" />
<circle cx="860.10" cy="407.10" r="16.10" stroke="#1c1c1c" stroke-width="1.0" fill="none" />
<circle cx="860.10" cy="407.10" r="9.50" stroke="#1c1c1c" stroke-width="1.0" fill="none" />
<line x1="860.10" y1="391.10" x2="860.10" y2="397.60" stroke="#1c1c1c" stroke-width="1.6" />
<line x1="860.10" y1="416.60" x2="860.10" y2="423.10" stroke="#1c1c1c" stroke-width="1.6" />
<line x1="860.50" y1="180.50" x2="860.50" y2="480.00" stroke="#666" stroke-width="0.7" />
<line x1="748.10" y1="302.50" x2="985.20" y2="302.50" stroke="#555" stroke-width="0.7" />
<line x1="814.00" y1="406.50" x2="953.00" y2="406.50" stroke="#1c1c1c" stroke-width="0.8" />
<line x1="764.60" y1="174.50" x2="955.10" y2="174.50" stroke="#1c1c1c" stroke-width="0.8" />
<polygon points="764.60,174.40 769.10,173.65 769.10,175.15" fill="#1c1c1c"/>
<polygon points="955.10,174.40 950.60,175.15 950.60,173.65" fill="#1c1c1c"/>
<line x1="764.50" y1="172.40" x2="764.50" y2="379.40" stroke="#1c1c1c" stroke-width="0.8" />
<line x1="955.50" y1="172.40" x2="955.50" y2="225.80" stroke="#1c1c1c" stroke-width="0.8" />
<text transform="translate(860.00,173.60) rotate(0) translate(0,0.7) scale(0.66,1)" x="-7.58 0.00 7.58" font-size="12.9" text-anchor="middle" fill="#1c1c1c" class="cad d" >415</text>
<line x1="773.90" y1="192.50" x2="946.30" y2="192.50" stroke="#1c1c1c" stroke-width="0.8" />
<polygon points="773.90,192.90 778.40,192.15 778.40,193.65" fill="#1c1c1c"/>
<polygon points="946.30,192.90 941.80,193.65 941.80,192.15" fill="#1c1c1c"/>
<line x1="773.50" y1="190.90" x2="773.50" y2="216.40" stroke="#1c1c1c" stroke-width="0.8" />
<line x1="946.50" y1="190.90" x2="946.50" y2="216.40" stroke="#1c1c1c" stroke-width="0.8" />
<text transform="translate(860.00,192.00) rotate(0) translate(0,0.7) scale(0.66,1)" x="-7.58 0.00 7.58" font-size="12.9" text-anchor="middle" fill="#1c1c1c" class="cad d" >375</text>
<line x1="732.50" y1="216.70" x2="732.50" y2="388.70" stroke="#1c1c1c" stroke-width="0.8" />
<polygon points="732.70,216.70 733.45,221.20 731.95,221.20" fill="#1c1c1c"/>
<polygon points="732.70,388.70 731.95,384.20 733.45,384.20" fill="#1c1c1c"/>
<line x1="730.60" y1="216.50" x2="773.70" y2="216.50" stroke="#1c1c1c" stroke-width="0.8" />
<line x1="730.60" y1="388.50" x2="773.70" y2="388.50" stroke="#1c1c1c" stroke-width="0.8" />
<text transform="translate(731.40,302.30) rotate(-90) translate(0,0.7) scale(0.66,1)" x="-7.58 0.00 7.58" font-size="12.9" text-anchor="middle" fill="#1c1c1c" class="cad d" >375</text>
<line x1="748.50" y1="225.60" x2="748.50" y2="378.80" stroke="#1c1c1c" stroke-width="0.8" />
<polygon points="748.10,225.60 748.85,230.10 747.35,230.10" fill="#1c1c1c"/>
<polygon points="748.10,378.80 747.35,374.30 748.85,374.30" fill="#1c1c1c"/>
<line x1="746.00" y1="225.50" x2="952.00" y2="225.50" stroke="#1c1c1c" stroke-width="0.8" />
<line x1="746.00" y1="378.50" x2="761.00" y2="378.50" stroke="#1c1c1c" stroke-width="0.8" />
<text transform="translate(747.00,302.30) rotate(-90) translate(0,0.7) scale(0.66,1)" x="-7.58 0.00 7.58" font-size="12.9" text-anchor="middle" fill="#1c1c1c" class="cad d" >335</text>
<line x1="983.50" y1="302.60" x2="983.50" y2="406.60" stroke="#1c1c1c" stroke-width="0.8" />
<polygon points="983.20,302.60 983.95,307.10 982.45,307.10" fill="#1c1c1c"/>
<polygon points="983.20,406.60 982.45,402.10 983.95,402.10" fill="#1c1c1c"/>
<line x1="953.00" y1="406.50" x2="985.20" y2="406.50" stroke="#1c1c1c" stroke-width="0.8" />
<text transform="translate(982.20,354.70) rotate(-90) translate(0,0.7) scale(0.66,1)" x="-15.15 -7.58 0.00 7.58 15.15" font-size="12.9" text-anchor="middle" fill="#1c1c1c" class="cad" ><tspan class="d">227</tspan>.<tspan class="d">6</tspan></text>
<path d="M876.70,397.50 L803.40,440.50 L761.70,440.50" stroke="#1c1c1c" stroke-width="0.75" fill="none" />
<text transform="translate(761.50,439.20) rotate(0) scale(0.74,1)" font-size="12.0" text-anchor="start" fill="#222" class="cn">入力轴</text>
<text transform="translate(788.30,439.10) rotate(0) translate(0,-0.25) scale(0.66,1)" x="3.79 11.36 18.94" font-size="12.9" text-anchor="middle" fill="#1c1c1c" class="cad" >Ø<tspan class="d">42</tspan></text>
<path d="M836.80,432.10 L800.00,464.30 L760.70,464.30" stroke="#1c1c1c" stroke-width="0.75" fill="none" />
<text transform="translate(759.00,463.20) rotate(0) translate(0,-0.25) scale(0.66,1)" x="3.79 11.36 18.94 26.52 34.09 41.67 49.24 56.82" font-size="12.9" text-anchor="middle" fill="#1c1c1c" class="cad" ><tspan class="d">4</tspan>-M<tspan class="d">12</tspan><tspan class="s" textLength="16" lengthAdjust="spacingAndGlyphs">↧</tspan><tspan class="d">20</tspan></text>
<path d="M811.80,380.20 L923.60,444.30 L966.30,444.30" stroke="#1c1c1c" stroke-width="0.75" fill="none" />
<text transform="translate(923.20,443.00) rotate(0) translate(0,-0.25) scale(0.66,1)" x="3.79 11.36 18.94 26.52 34.09 41.67 49.24 56.82 64.39" font-size="12.9" text-anchor="middle" fill="#1c1c1c" class="cad" >P.C.DØ<tspan class="d">200</tspan></text>
<path d="M833.20,383.80 L922.20,464.30 L986.00,464.30" stroke="#1c1c1c" stroke-width="0.75" fill="none" />
<text transform="translate(922.00,463.00) rotate(0) scale(0.74,1)" font-size="12.0" text-anchor="start" fill="#222" class="cn">马达凸圆</text>
<text transform="translate(957.30,462.80) rotate(0) translate(0,-0.25) scale(0.66,1)" x="3.79 11.36 18.94 26.52 34.09 41.67" font-size="12.9" text-anchor="middle" fill="#1c1c1c" class="cad" >Ø<tspan class="d">114</tspan>.<tspan class="d">3</tspan></text>
<g stroke-linejoin="round" stroke-linecap="round">
<path d="M51.50,138.90 L54.60,136.20 L82.60,136.20 L84.20,138.60 L83.80,145.80 L73.60,154.00 L70.00,154.80 L51.60,146.40 Z" stroke="#1e1e1e" stroke-width="1.25" fill="#fff" />
<path d="M51.50,138.90 L70.60,147.60 L73.80,147.00 L84.20,138.60" stroke="#1e1e1e" stroke-width="1.25" fill="none" />
<path d="M70.60,147.60 L70.00,154.80" stroke="#1e1e1e" stroke-width="1.25" fill="none" />
<path d="M73.80,147.00 L73.60,154.00" stroke="#1e1e1e" stroke-width="1.25" fill="none" />
<path d="M56.4,126 L56,135.2 A12,5.2 0 0 0 80,135.2 L80.6,127 Z" stroke="#1e1e1e" stroke-width="1.25" fill="#fff" />
<path d="M57.5,139.5 A11,4.6 0 0 0 78.5,140.6" stroke="#1e1e1e" stroke-width="1.25" fill="none" />
<path d="M59,141.5 A10,4 0 0 0 77,142.4" stroke="#1e1e1e" stroke-width="0.95" fill="none" />
<path d="M56.6,129.5 A12,5.2 0 0 0 80.4,130.2" stroke="#555" stroke-width="2.0" fill="none" />
<path d="M56.3,132.6 A12,5.2 0 0 0 80.2,133.2" stroke="#1e1e1e" stroke-width="0.95" fill="none" />
<path d="M52.60,115.00 L52.60,121.60 L71.80,129.20 L74.20,129.00 L74.20,117.60 L64.00,113.60 Z" stroke="#1e1e1e" stroke-width="1.25" fill="#fff" />
<path d="M52.60,121.60 L60.50,116.40 L74.20,121.60" stroke="#1e1e1e" stroke-width="1.25" fill="none" />
<path d="M71.80,129.20 L71.80,122.60" stroke="#1e1e1e" stroke-width="1.25" fill="none" />
<path d="M11.00,97.70 L30.00,76.60 L47.00,74.00 L68.50,82.00 L83.00,94.50 L83.00,98.60 L64.00,113.80 L52.80,119.40 L11.90,102.90 Z" stroke="#1e1e1e" stroke-width="1.25" fill="#fff" />
<path d="M11.00,97.70 L46.80,112.60 L52.60,115.00" stroke="#1e1e1e" stroke-width="1.25" fill="none" />
<path d="M46.80,112.60 L60.50,103.50" stroke="#1e1e1e" stroke-width="1.25" fill="none" />
<path d="M16.00,92.30 L17.60,95.40 L21.20,96.80" stroke="#1e1e1e" stroke-width="1.05" fill="none" />
<ellipse cx="18.2" cy="93.6" rx="1.5" ry="1.0" transform="rotate(0 18.2 93.6)" stroke="#1e1e1e" stroke-width="1.05" fill="none"/>
<ellipse cx="17.4" cy="99.2" rx="1.4" ry="1.0" transform="rotate(0 17.4 99.2)" stroke="#444" stroke-width="1.6" fill="none"/>
<path d="M15.60,99.60 L20.50,101.60" stroke="#1e1e1e" stroke-width="1.05" fill="none" />
<path d="M71.50,84.50 L76.00,83.40 L80.50,88.60 L82.60,94.00" stroke="#1e1e1e" stroke-width="1.05" fill="none" />
<ellipse cx="76.6" cy="87.6" rx="1.6" ry="1.1" transform="rotate(0 76.6 87.6)" stroke="#1e1e1e" stroke-width="1.05" fill="none"/>
<ellipse cx="80.2" cy="92.4" rx="1.4" ry="1.0" transform="rotate(0 80.2 92.4)" stroke="#1e1e1e" stroke-width="1.05" fill="none"/>
<path d="M64.00,106.20 L74.20,109.80 L87.40,99.00 L77.20,95.40 Z" stroke="#1e1e1e" stroke-width="1.25" fill="#fff" />
<path d="M64.00,106.20 L64.00,114.00 L74.20,117.60 L74.20,109.80 Z" stroke="#1e1e1e" stroke-width="1.25" fill="#fff" />
<path d="M74.20,109.80 L87.40,99.00 L87.40,119.40 L74.20,129.00 Z" stroke="#1e1e1e" stroke-width="1.25" fill="#fff" />
<path d="M74.20,116.40 L87.40,107.40" stroke="#1e1e1e" stroke-width="1.25" fill="none" />
<path d="M74.20,122.60 L87.40,114.00" stroke="#1e1e1e" stroke-width="1.25" fill="none" />
<path d="M77.60,120.20 L77.60,126.60" stroke="#1e1e1e" stroke-width="1.05" fill="none" />
<path d="M25.0,91.0 A22.4,14.8 0 0 0 69.8,91.0 L69.8,88.6 A22.4,14.8 0 0 0 25.0,88.6 Z" stroke="#1e1e1e" stroke-width="1.25" fill="#fff" />
<ellipse cx="47.4" cy="88.6" rx="22.4" ry="14.8" transform="rotate(0 47.4 88.6)" stroke="#1e1e1e" stroke-width="1.3" fill="#fff"/>
<ellipse cx="47.4" cy="88.2" rx="19.8" ry="12.9" transform="rotate(0 47.4 88.2)" stroke="#1e1e1e" stroke-width="1.0" fill="none"/>
<ellipse cx="47.4" cy="88.0" rx="17.2" ry="11.0" transform="rotate(0 47.4 88.0)" stroke="#1e1e1e" stroke-width="1.3" fill="none"/>
<ellipse cx="47.4" cy="87.8" rx="14.2" ry="8.6" transform="rotate(0 47.4 87.8)" stroke="#1e1e1e" stroke-width="1.3" fill="none"/>
<path d="M36.0,92.4 A12.0,5.6 0 0 0 58.6,92.4" stroke="#1e1e1e" stroke-width="1.25" fill="none" />
<path d="M38.2,94.2 L38.2,90.2 L39.6,88.8 L41.6,88.8 L41.6,90.8 L45.4,90.8 L45.4,88.4 L48.8,88.4 L48.8,90.8 L52.6,90.8 L52.6,88.9 L54.8,88.9 L56.2,90.4 L56.2,94.2" stroke="#1e1e1e" stroke-width="1.25" fill="none" />
<path d="M38.2,93.6 A9.6,3.6 0 0 0 56.2,93.6" stroke="#1e1e1e" stroke-width="0.95" fill="none" />
<ellipse cx="55.0" cy="109.6" rx="2.3" ry="1.5" transform="rotate(0 55.0 109.6)" stroke="#1e1e1e" stroke-width="0.9" fill="#fff"/>
<ellipse cx="55.0" cy="110.8" rx="1.2" ry="0.8" transform="rotate(0 55.0 110.8)" stroke="#444" stroke-width="1.4" fill="none"/>
<path d="M47.20,108.80 L51.50,107.20 L58.50,107.60 L62.00,109.80 L58.00,113.00" stroke="#1e1e1e" stroke-width="1.05" fill="none" />
<path d="M47.20,108.80 L47.20,110.60 L52.80,113.00" stroke="#1e1e1e" stroke-width="1.05" fill="none" />
</g>
</svg>
<div class="note" style="left:654px;top:737.9px;font-size:15px;line-height:20px;"><span class="cnm">单位</span><span style="font-size:17.5px;letter-spacing:3px;margin-left:2.5px;">:</span><span style="font-size:17.5px;letter-spacing:1.4px;">mm</span></div>
<div class="note cnm" style="left:654px;top:777.6px;font-size:15.4px;line-height:20px;letter-spacing:0.4px;">订购时请提供马达法兰尺寸。</div>
<div class="note en" style="left:654px;top:798.6px;font-size:15.5px;line-height:20px;letter-spacing:0.22px;">please provide motor flange size when ordering</div>
</body>
</html>
